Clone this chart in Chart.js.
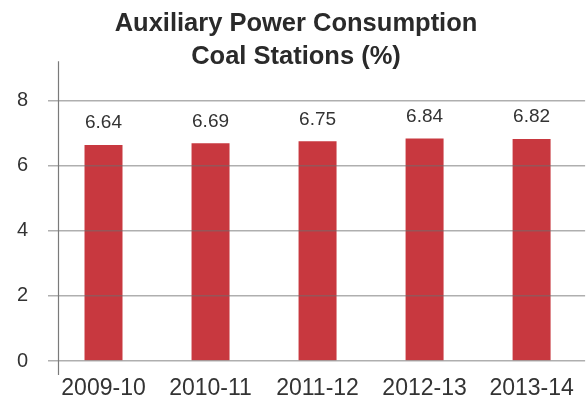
<!DOCTYPE html>
<html>
<head>
<meta charset="utf-8">
<script src="https://cdn.jsdelivr.net/npm/chart.js@4"></script>
<style>
  html, body { margin: 0; padding: 0; background: #fff; }
  #wrap { width: 588px; height: 403px; }
</style>
</head>
<body>
<div id="wrap"><canvas id="grafico"></canvas></div>
<script>
// datos
const categorias = ['2009-10', '2010-11', '2011-12', '2012-13', '2013-14'];
const consumo = [6.64, 6.69, 6.75, 6.84, 6.82];
const ticksY = [0, 2, 4, 6, 8];

const fuente = "'Liberation Sans', Arial, Helvetica, sans-serif";

// etiquetas encima de las barras
const etiquetasValor = {
    id: 'etiquetasValor',
    afterDatasetsDraw(chart) {
        const ctx = chart.ctx;
        const meta = chart.getDatasetMeta(0);
        ctx.save();
        ctx.font = '19px ' + fuente;
        ctx.fillStyle = '#333';
        ctx.textAlign = 'center';
        ctx.textBaseline = 'middle';
        meta.data.forEach((bar, i) => {
            ctx.fillText(consumo[i].toFixed(2), bar.x, bar.y - 22);
        });
        ctx.restore();
    }
};

// linea vertical del eje y (un poco a la derecha del borde, sobresale arriba y abajo)
const ejeY = {
    id: 'ejeY',
    afterDraw(chart) {
        const ctx = chart.ctx;
        const area = chart.chartArea;
        const x = Math.round(area.left + 8) + 0.5;
        ctx.save();
        ctx.strokeStyle = '#7a7a7a';
        ctx.lineWidth = 1.2;
        ctx.beginPath();
        ctx.moveTo(x, area.top - 12);
        ctx.lineTo(x, area.bottom + 14);
        ctx.stroke();
        ctx.restore();
    }
};

new Chart(document.getElementById('grafico'), {
    type: 'bar',
    data: {
        labels: categorias,
        datasets: [{
            data: consumo,
            backgroundColor: '#c8383f',
            barPercentage: 0.71,
            categoryPercentage: 0.5
        }]
    },
    options: {
        responsive: true,
        maintainAspectRatio: false,
        animation: false,
        layout: { padding: { left: 6, right: 2, top: 0, bottom: 0 } },
        plugins: {
            legend: { display: false },
            tooltip: { enabled: false },
            title: {
                display: true,
                text: ['Auxiliary Power Consumption', 'Coal Stations (%)'],
                color: '#2a2a2a',
                font: { family: fuente, size: 25.5, weight: 'bold', lineHeight: 1.3 },
                padding: { top: 7, bottom: 0 }
            }
        },
        scales: {
            x: {
                grid: { display: false, drawTicks: false },
                border: { display: false },
                ticks: { color: '#333', font: { family: fuente, size: 23 }, padding: 14, maxRotation: 0 },
                afterFit(scale) { scale.height = 42; }
            },
            y: {
                min: 0,
                max: 8.84,
                afterBuildTicks(scale) {
                    scale.ticks = ticksY.map(v => ({ value: v }));
                },
                grid: { color: 'rgba(110,110,110,0.55)', lineWidth: 1.5, tickLength: 2, z: 1 },
                border: { display: false },
                ticks: { color: '#333', font: { family: fuente, size: 20 }, padding: 20 },
                afterFit(scale) { scale.width = 44; }
            }
        }
    },
    plugins: [etiquetasValor, ejeY]
});
</script>
</body>
</html>
